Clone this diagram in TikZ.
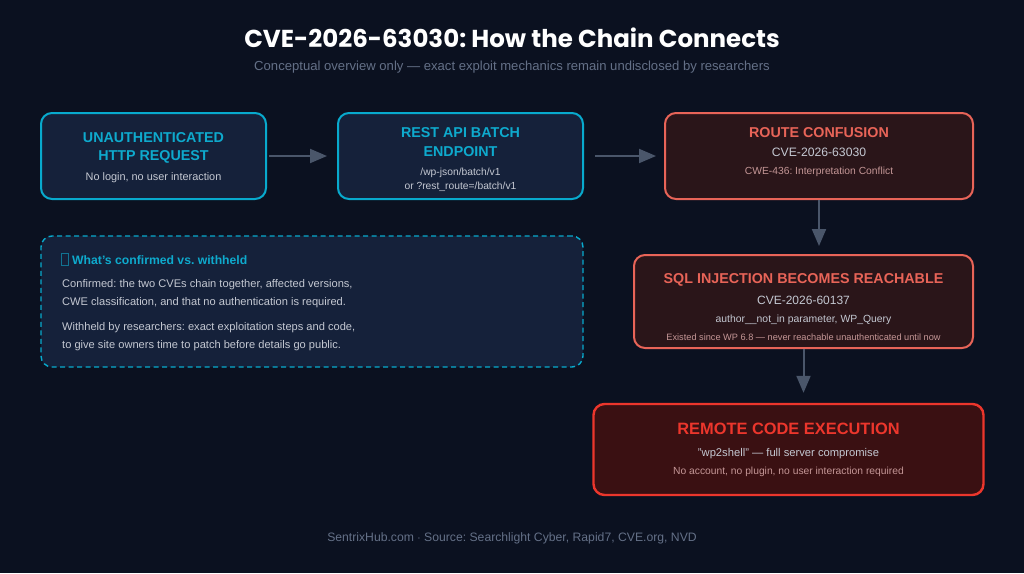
\documentclass[tikz,border=0pt]{standalone}
\usepackage{fontspec}
\setmainfont{Liberation Sans}
\newfontfamily\titlefont{Poppins}
\frenchspacing
\usetikzlibrary{arrows.meta,positioning,calc}
\definecolor{bgNavy}{RGB}{11,17,32}
\definecolor{boxBlue}{RGB}{21,33,58}
\definecolor{edgeCyan}{RGB}{8,170,205}
\definecolor{txtCyan}{RGB}{14,170,205}
\definecolor{boxRed}{RGB}{42,21,25}
\definecolor{edgeSalmon}{RGB}{232,100,88}
\definecolor{boxDeep}{RGB}{58,16,18}
\definecolor{edgeRed}{RGB}{236,54,44}
\definecolor{txtLight}{RGB}{196,200,210}
\definecolor{txtPink}{RGB}{196,150,150}
\definecolor{txtMuted}{RGB}{100,112,135}
\definecolor{arrGray}{RGB}{74,86,106}
\tikzset{
  stagebox/.style={draw=edgeCyan, fill=boxBlue, line width=2pt, rounded corners=11pt, inner sep=0pt},
  riskbox/.style={draw=edgeSalmon, fill=boxRed, line width=2pt, rounded corners=11pt, inner sep=0pt},
  impactbox/.style={draw=edgeRed, fill=boxDeep, line width=2.4pt, rounded corners=11pt, inner sep=0pt},
  notebox/.style={draw=edgeCyan, fill=boxBlue, line width=1.4pt, dash pattern=on 5pt off 3.5pt, rounded corners=11pt, inner sep=0pt},
  flow/.style={-{Triangle[length=17pt,width=14pt]}, line width=2pt, arrGray},
  headln/.style={font=\fontsize{14.3}{16}\selectfont\bfseries, inner sep=0pt},
  subln/.style={font=\fontsize{10.9}{12}\selectfont, inner sep=0pt, txtLight},
  tinyln/.style={font=\fontsize{10.3}{11}\selectfont, inner sep=0pt},
  noteln/.style={font=\fontsize{11.1}{12}\selectfont, inner sep=0pt, anchor=west, txtLight},
}
\newcommand{\tofubox}{{\setlength{\fboxsep}{0pt}\setlength{\fboxrule}{0.8pt}\fbox{\rule{0pt}{11pt}\hspace{6pt}}}}

\begin{document}
\begin{tikzpicture}[x=1pt, y=-1pt]
    \fill[bgNavy] (0,0) rectangle (1024,573);
    \useasboundingbox (0,0) rectangle (1024,573);
    % heading
    \node[white, inner sep=0pt] (title) at (512,38)
      {\titlefont\fontsize{24.5}{26}\selectfont\bfseries CVE-2026-63030: How the Chain Connects};
    \node[txtMuted, inner sep=0pt] (subtitle) at (512,67)
      {\fontsize{13.1}{15}\selectfont Conceptual overview only --- exact exploit mechanics remain undisclosed by researchers};
    % chain boxes
    \node[stagebox, minimum width=225pt, minimum height=86pt] (req) at (153.5,156) {};
    \node[stagebox, minimum width=245pt, minimum height=86pt] (api) at (460.5,156) {};
    \node[riskbox, minimum width=308pt, minimum height=86pt] (route) at (819,156) {};
    \node[riskbox, minimum width=339pt, minimum height=93pt] (sqli) at (803.5,301.5) {};
    \node[impactbox, minimum width=390pt, minimum height=91pt] (rce) at (788.5,449.5) {};
    \node[notebox, minimum width=542pt, minimum height=131pt] (note) at (312,301.5) {};
    % box texts
    \node[headln, txtCyan] (reqA) at (153.5,138) {UNAUTHENTICATED};
    \node[headln, txtCyan] (reqB) at (153.5,157) {HTTP REQUEST};
    \node[subln] (reqC) at (153.5,178) {No login, no user interaction};
    \node[headln, txtCyan] (apiA) at (460.5,133) {REST API BATCH};
    \node[headln, txtCyan] (apiB) at (460.5,152) {ENDPOINT};
    \node[tinyln, txtLight] (apiC) at (460.5,173) {/wp-json/batch/v1};
    \node[tinyln, txtLight] (apiD) at (460.5,187) {or ?rest\_route=/batch/v1};
    \node[headln, edgeSalmon] (routeA) at (819,133) {ROUTE CONFUSION};
    \node[font=\fontsize{12.2}{14}\selectfont, inner sep=0pt, txtLight] (routeB) at (819,152) {CVE-2026-63030};
    \node[tinyln, txtPink] (routeC) at (819,172) {CWE-436: Interpretation Conflict};
    \node[headln, edgeSalmon] (sqliA) at (803.5,280) {SQL INJECTION BECOMES REACHABLE};
    \node[font=\fontsize{12.0}{14}\selectfont, inner sep=0pt, txtLight] (sqliB) at (803.5,300) {CVE-2026-60137};
    \node[font=\fontsize{10.4}{12}\selectfont, inner sep=0pt, txtLight] (sqliC) at (803.5,320) {author\_\_not\_in parameter, WP\_Query};
    \node[font=\fontsize{9.2}{10}\selectfont, inner sep=0pt, txtPink] (sqliD) at (803.5,337)
      {Existed since WP 6.8 --- never reachable unauthenticated until now};
    \node[font=\fontsize{16.4}{18}\selectfont\bfseries, inner sep=0pt, edgeRed] (rceA) at (788.5,429) {REMOTE CODE EXECUTION};
    \node[font=\fontsize{11.2}{12}\selectfont, inner sep=0pt, txtLight] (rceB) at (788.5,454) {"wp2shell" --- full server compromise};
    \node[tinyln, txtPink] (rceC) at (788.5,472) {No account, no plugin, no user interaction required};
    % note texts
    \node[font=\fontsize{12.2}{14}\selectfont\bfseries, inner sep=0pt, anchor=west, txtCyan] (noteA) at (61,259)
      {{\color{txtCyan!60!boxBlue}\tofubox} What's confirmed vs. withheld};
    \node[noteln] (noteB) at (62,285) {Confirmed: the two CVEs chain together, affected versions,};
    \node[noteln] (noteC) at (62,303) {CWE classification, and that no authentication is required.};
    \node[noteln] (noteD) at (62,328) {Withheld by researchers: exact exploitation steps and code,};
    \node[noteln] (noteE) at (62,346) {to give site owners time to patch before details go public.};
    % connectors
    \draw[flow, shorten <=2pt, shorten >=10pt] (req) -- (api);
    \draw[flow, shorten <=11pt, shorten >=8pt] (api) -- (route);
    \draw[flow, shorten >=8pt] (route.south) -- (route.south |- sqli.north);
    \draw[flow, shorten >=10pt] (sqli.south) -- (sqli.south |- rce.north);
    % footer
    \node[txtMuted, inner sep=0pt] (footer) at (512,538)
      {\fontsize{12.2}{14}\selectfont SentrixHub.com $\cdot$ Source: Searchlight Cyber, Rapid7, CVE.org, NVD};
  \end{tikzpicture}
\end{document}
